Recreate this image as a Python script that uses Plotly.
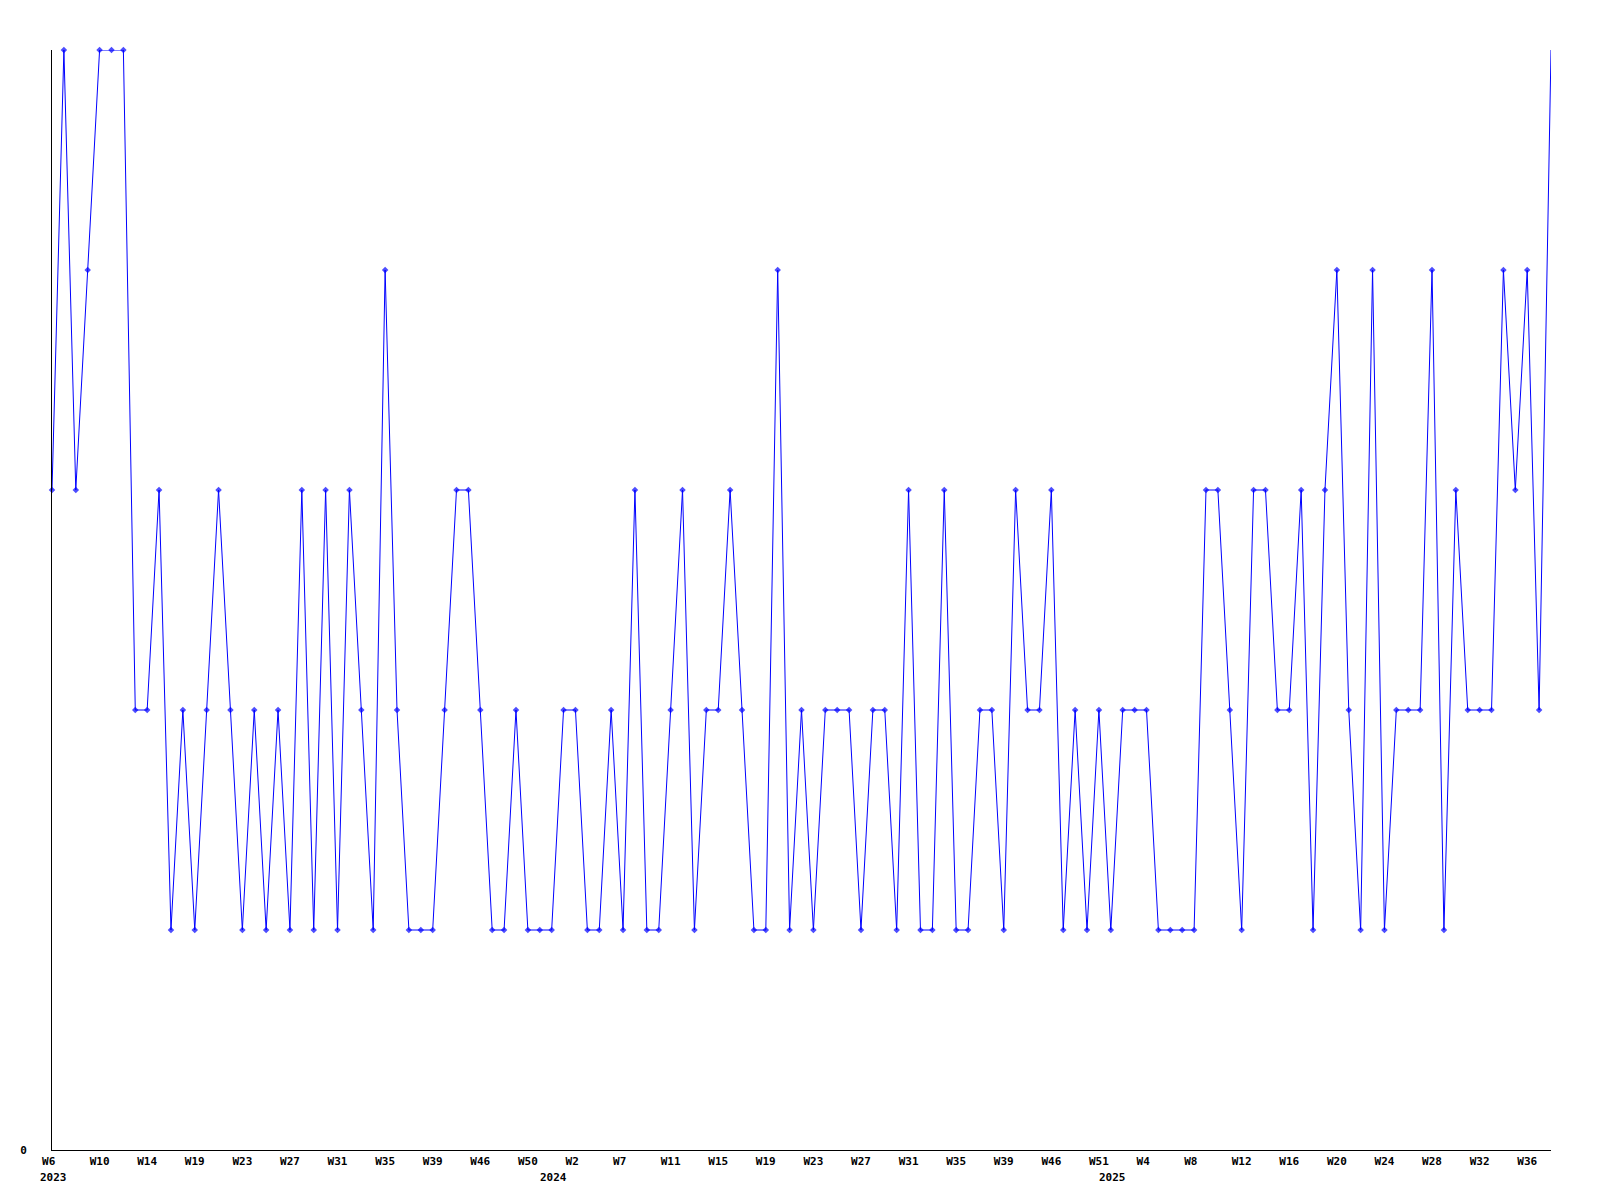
import plotly.graph_objects as go

# ---- data ----
weeks_2023 = [6, 7, 8, 9, 10, 11, 12, 13, 14, 15, 16, 18, 19, 20, 21, 22, 23, 24, 25, 26,
              27, 28, 29, 30, 31, 32, 33, 34, 35, 36, 37, 38, 39, 41, 43, 45, 46, 47, 48, 49,
              50, 51]
weeks_2024 = [0, 1, 2, 3, 4, 6, 7, 8, 9, 10, 11, 12, 13, 14, 15, 16, 17, 18, 19, 20,
              21, 22, 23, 24, 25, 26, 27, 28, 29, 30, 31, 32, 33, 34, 35, 36, 37, 38, 39, 41,
              43, 45, 46, 47, 48, 50, 51]
weeks_2025 = [1, 2, 3, 4, 5, 6, 7, 8, 9, 10, 11, 12, 13, 14, 15, 16, 17, 18, 19, 20,
              21, 22, 23, 24, 25, 26, 27, 28, 29, 30, 31, 32, 33, 34, 35, 36, 37, 38]

values = [3, 5, 3, 4, 5, 5, 5, 2, 2, 3,
          1, 2, 1, 2, 3, 2, 1, 2, 1, 2,
          1, 3, 1, 3, 1, 3, 2, 1, 4, 2,
          1, 1, 1, 2, 3, 3, 2, 1, 1, 2,
          1, 1, 1, 2, 2, 1, 1, 2, 1, 3,
          1, 1, 2, 3, 1, 2, 2, 3, 2, 1,
          1, 4, 1, 2, 1, 2, 2, 2, 1, 2,
          2, 1, 3, 1, 1, 3, 1, 1, 2, 2,
          1, 3, 2, 2, 3, 1, 2, 1, 2, 1,
          2, 2, 2, 1, 1, 1, 1, 3, 3, 2,
          1, 3, 3, 2, 2, 3, 1, 3, 4, 2,
          1, 4, 1, 2, 2, 2, 4, 1, 3, 2,
          2, 2, 4, 3, 4, 2, 5]

# ---- build point labels ----
points = ([(2023, w) for w in weeks_2023] +
          [(2024, w) for w in weeks_2024] +
          [(2025, w) for w in weeks_2025])
n = len(points)
xs = list(range(n))
week_labels = ["W%d" % w for _, w in points]

tick_step = 4
tickvals = xs[::tick_step]
ticktext = [week_labels[i].ljust(3, "\u00a0") for i in tickvals]

# first point of each year
year_first = {}
for i, (y, _) in enumerate(points):
    year_first.setdefault(y, i)

sizes = [5] * (n - 1) + [0]

FONT = "DejaVu Sans Mono"

fig = go.Figure()
fig.add_trace(go.Scatter(
    x=xs, y=values, mode="lines+markers",
    line=dict(color="#0000FF", width=1),
    marker=dict(color="#0000FF", size=sizes, symbol="diamond", line=dict(width=0)),
    cliponaxis=False, hoverinfo="skip", showlegend=False,
))

for yr, idx in year_first.items():
    fig.add_annotation(
        x=idx, xref="x", y=0, yref="paper", text=str(yr), showarrow=False,
        xanchor="left", yanchor="top", xshift=-14, yshift=-19,
        font=dict(family=FONT, size=11, color="black", weight="bold"),
    )

fig.update_layout(
    width=1600, height=1200,
    margin=dict(l=42, r=57, t=42, b=58),
    paper_bgcolor="white", plot_bgcolor="white",
    xaxis=dict(
        range=[0, n - 1], tickvals=tickvals, ticktext=ticktext, tickangle=0,
        showgrid=False, zeroline=False, showline=True, linecolor="black", linewidth=1,
        ticks="", ticklabelstandoff=1,
        tickfont=dict(family=FONT, size=11, color="black", weight="bold"),
    ),
    yaxis=dict(
        range=[0, 5], tickvals=[0], ticktext=["0"],
        showgrid=False, zeroline=False, showline=True, linecolor="black", linewidth=1,
        ticks="", ticklabelstandoff=22,
        tickfont=dict(family=FONT, size=11, color="black", weight="bold"),
    ),
)

fig.write_html("out.html")
